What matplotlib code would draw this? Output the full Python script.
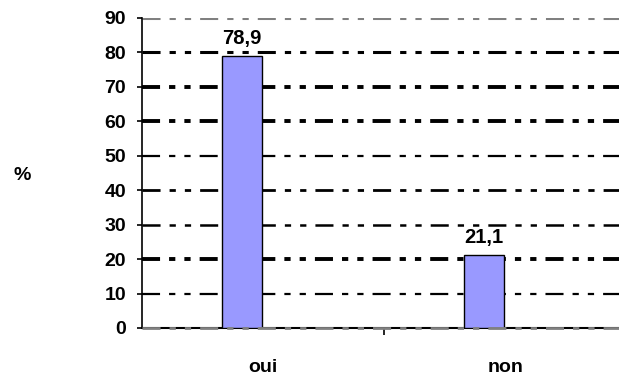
import matplotlib
matplotlib.use("Agg")
import matplotlib.pyplot as plt

# data
categories = ["oui", "non"]
values = [78.9, 21.1]
labels = ["78,9", "21,1"]
y_ticks = [0, 10, 20, 30, 40, 50, 60, 70, 80, 90]

plt.rcParams['font.family'] = ['Liberation Sans', 'DejaVu Sans']
plt.rcParams['font.weight'] = 'bold'
plt.rcParams['lines.scale_dashes'] = False

fig = plt.figure(figsize=(6.19, 3.76), dpi=100)
ax = fig.add_axes([0.2294, 0.1277, 0.7706, 0.8245])

pos = list(range(len(categories)))
bar_off = -0.087
bar_w = 0.165
dash = (13, 6.5, 4.5, 6.5, 4.5, 6.5)

# gridlines: dash-dot-dot, grey at top and bottom
grid_widths = {10: 1.6, 20: 2.8, 30: 1.8, 40: 2.0, 50: 1.6, 60: 2.8, 70: 2.8, 80: 2.2}
for yv in y_ticks:
    if yv == 90:
        ax.axhline(yv, color='#808080', lw=2.2, dashes=dash, zorder=1)
    elif yv == 0:
        ax.axhline(yv, color='#808080', lw=2.0, dashes=dash, zorder=5,
                   clip_on=False)
    else:
        ax.axhline(yv, color='black', lw=grid_widths[yv], dashes=dash, zorder=1)

ax.bar([p + bar_off for p in pos], values, width=bar_w, color='#9999FF',
       edgecolor='black', linewidth=1.0, zorder=3)

for p, v, lab in zip(pos, values, labels):
    ax.text(p + bar_off, v + 2.3, lab, ha='center', va='bottom',
            fontsize=14.5, fontweight='bold', zorder=4)

ax.set_xlim(-0.5, 1.47)
ax.set_ylim(0, 90)
ax.set_yticks(y_ticks)
ax.set_yticklabels([str(t) for t in y_ticks], fontsize=14, fontweight='bold')
ax.set_xticks([0.5])
ax.set_xticklabels([''])
ax.tick_params(axis='y', direction='out', length=3.5, width=1.2, pad=8)
ax.tick_params(axis='x', direction='out', length=5, width=1.2)

for p, c in zip(pos, categories):
    ax.text(p, -9.0, c, ha='center', va='top', fontsize=14,
            fontweight='bold', transform=ax.transData)

for s in ('top', 'right'):
    ax.spines[s].set_visible(False)
ax.spines['left'].set_linewidth(1.2)
ax.spines['bottom'].set_linewidth(1.5)
ax.spines['left'].set_zorder(2)

fig.text(22 / 619, 1 - 176 / 376, '%', ha='center', va='center',
         fontsize=14, fontweight='bold')

fig.savefig('out.png', dpi=100)
